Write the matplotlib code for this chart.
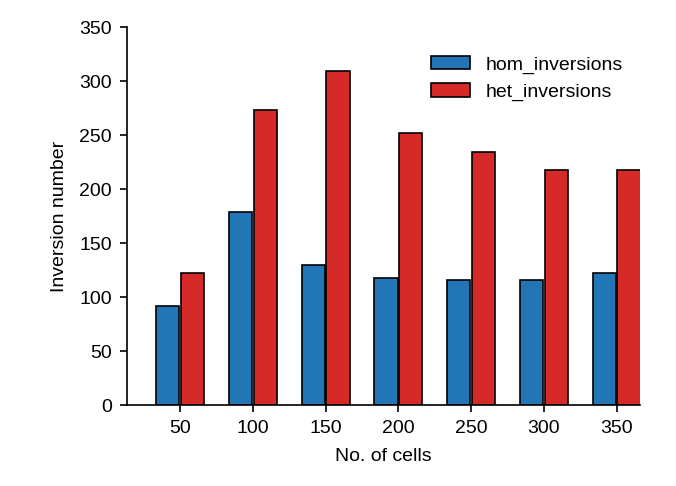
import matplotlib
matplotlib.use("Agg")
import matplotlib.pyplot as plt
import numpy as np

plt.rcParams["font.family"] = "Liberation Sans"

cells = ["50", "100", "150", "200", "250", "300", "350"]
hom_inversions = [92, 179, 130, 118, 116, 116, 122]
het_inversions = [122, 273, 309, 252, 234, 218, 218]

fig = plt.figure(figsize=(6.76, 4.86), dpi=100)
ax = fig.add_axes([127/676, 1-405/486, (640-127)/676, (405-27)/486])
x = np.arange(len(cells))
w = 0.32
ax.bar(x - w/2 - 0.01, hom_inversions, w, color="#2276b6", edgecolor="black", linewidth=1.2, label="hom_inversions")
ax.bar(x + w/2 + 0.01, het_inversions, w, color="#d62a28", edgecolor="black", linewidth=1.2, label="het_inversions")
ax.set_xlim(-0.73, 6.32)
ax.set_ylim(0, 350)
ax.set_yticks(range(0, 351, 50))
ax.set_xticks(x)
ax.set_xticklabels(cells)
ax.tick_params(labelsize=14, width=1.2, length=5, pad=6)
ax.set_xlabel("No. of cells", fontsize=14, labelpad=8)
ax.set_ylabel("Inversion number", fontsize=14, labelpad=8)
for s in ["top", "right"]:
    ax.spines[s].set_visible(False)
for s in ["left", "bottom"]:
    ax.spines[s].set_linewidth(1.2)
ax.legend(frameon=False, fontsize=14, loc="upper right", bbox_to_anchor=(1.0, 0.97))
fig.savefig("out.png", dpi=100)
